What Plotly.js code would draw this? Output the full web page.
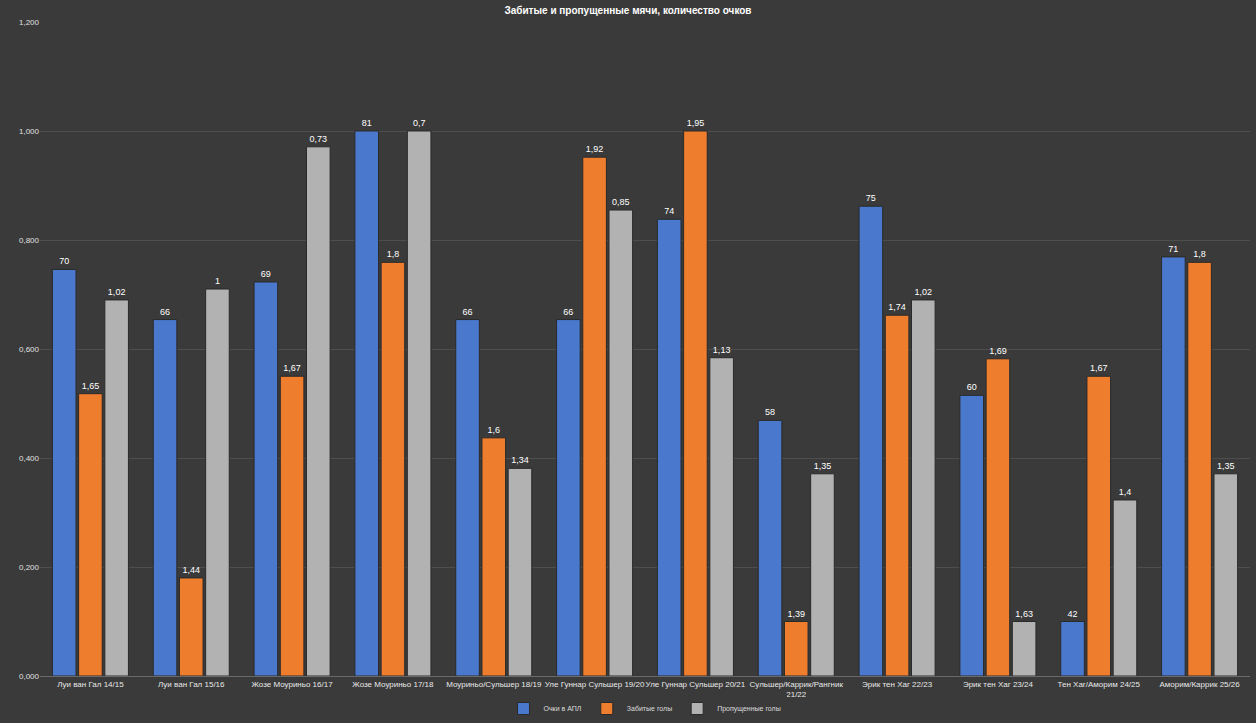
<!DOCTYPE html>
<html>
<head>
<meta charset="utf-8">
<script src="https://cdn.plot.ly/plotly-3.0.1.min.js"></script>
<style>
  html, body { margin: 0; padding: 0; background: #3a3a3a; }
  #chart { width: 1256px; height: 723px; }
</style>
</head>
<body>
<div id="chart"></div>
<script>
const categories = [
  "Луи ван Гал 14/15", "Луи ван Гал 15/16", "Жозе Моуриньо 16/17", "Жозе Моуриньо 17/18",
  "Моуриньо/Сульшер 18/19", "Уле Гуннар Сульшер 19/20", "Уле Гуннар Сульшер 20/21",
  "Сульшер/Каррик/Рангник<br>21/22", "Эрик тен Хаг 22/23", "Эрик тен Хаг 23/24",
  "Тен Хаг/Аморим 24/25", "Аморим/Каррик 25/26"
];

// bar heights (0..1 scale)
const pointsBars   = [0.746, 0.654, 0.723, 1.0, 0.654, 0.654, 0.838, 0.469, 0.862, 0.515, 0.1, 0.769];
const scoredBars   = [0.518, 0.18, 0.55, 0.759, 0.437, 0.952, 1.0, 0.1, 0.662, 0.582, 0.55, 0.759];
const concededBars = [0.69, 0.71, 0.971, 1.0, 0.381, 0.855, 0.584, 0.371, 0.69, 0.1, 0.323, 0.371];

// data labels printed above bars
const pointsLabels   = ["70", "66", "69", "81", "66", "66", "74", "58", "75", "60", "42", "71"];
const scoredLabels   = ["1,65", "1,44", "1,67", "1,8", "1,6", "1,92", "1,95", "1,39", "1,74", "1,69", "1,67", "1,8"];
const concededLabels = ["1,02", "1", "0,73", "0,7", "1,34", "0,85", "1,13", "1,35", "1,02", "1,63", "1,4", "1,35"];

const yTicks = [0, 0.2, 0.4, 0.6, 0.8, 1.0, 1.2];
const yTickText = ["0,000", "0,200", "0,400", "0,600", "0,800", "1,000", "1,200"];

function bar(name, y, labels, color) {
  return {
    type: "bar", name: name, x: categories, y: y,
    text: labels, textposition: "outside", cliponaxis: false,
    textfont: { color: "#ffffff", size: 9, family: "Liberation Sans" },
    marker: { color: color, line: { color: "#2a2a2a", width: 1 } }
  };
}

const data = [
  bar("Очки в АПЛ", pointsBars, pointsLabels, "#4a78cc"),
  bar("Забитые голы", scoredBars, scoredLabels, "#ef7d2e"),
  bar("Пропущенные голы", concededBars, concededLabels, "#b2b2b2")
];

const layout = {
  width: 1256, height: 723,
  paper_bgcolor: "#3a3a3a", plot_bgcolor: "#3a3a3a",
  margin: { l: 40, r: 6, t: 22, b: 47 },
  title: { text: "<b>Забитые и пропущенные мячи, количество очков</b>", x: 0.5, y: 0.99,
           font: { color: "#ffffff", size: 10, family: "Liberation Sans" } },
  barmode: "group", bargap: 0.22, bargroupgap: 0.1,
  font: { family: "Liberation Sans", color: "#ffffff" },
  xaxis: { tickfont: { size: 8, color: "#e8e8e8" }, tickangle: 0,
           showline: true, linecolor: "#6a6a6a", automargin: false },
  yaxis: { range: [0, 1.2], tickvals: yTicks, ticktext: yTickText,
           tickfont: { size: 8, color: "#e0e0e0" }, gridcolor: "#4e4e4e",
           zeroline: false, automargin: false },
  legend: { orientation: "h", x: 0.5, xanchor: "center", yref: "container", y: 0, yanchor: "bottom",
            font: { size: 7, color: "#dddddd" }, itemwidth: 30 }
};

Plotly.newPlot("chart", data, layout, { displayModeBar: false });
</script>
</body>
</html>
